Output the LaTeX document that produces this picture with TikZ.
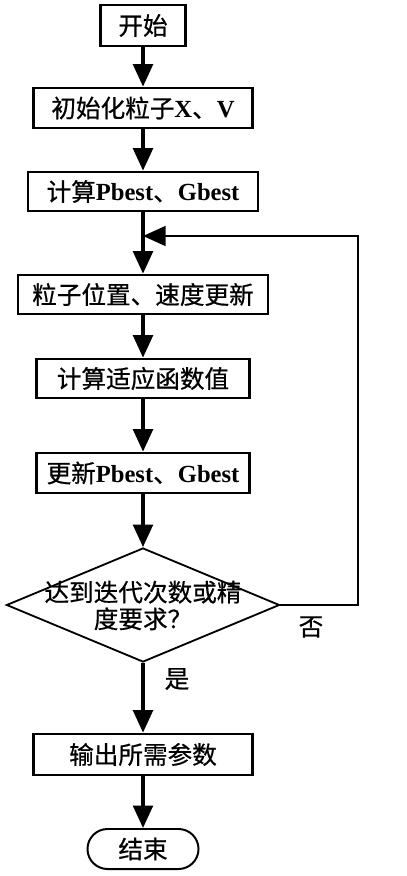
\documentclass[tikz,border=0pt]{standalone}
\usepackage{fontspec}
\setmainfont{Liberation Serif}
\newfontfamily\cjk{Noto Sans CJK SC}[BoldFont=Noto Sans CJK SC,BoldFeatures={FakeBold=0.6}]
\newcommand\lat[1]{{\rmfamily\bfseries #1}}
\usetikzlibrary{arrows.meta}
\usetikzlibrary{shapes.geometric}

\begin{document}
\begin{tikzpicture}[x=0.025cm,y=-0.025cm,
  txt/.style={font=\fontsize{17.5}{19}\selectfont\cjk\bfseries},
  box/.style={txt,draw,line width=1.9pt,inner sep=0pt,minimum height=1cm},
  flow/.style={line width=2.4pt,-{Triangle[width=14pt,length=16pt]}}]
\useasboundingbox (0,0) rectangle (407,876);
\node[box,minimum width=2.125cm,minimum height=1.025cm] (start) at (143,25.5) {开始};
\node[box,minimum width=5.475cm] (init) at (143,108) {初始化粒子\lat{X}、\lat{V}};
\node[box,minimum width=5.75cm,minimum height=0.975cm] (calc) at (143,191.5) {计算\lat{Pbest}、\lat{Gbest}};
\node[box,minimum width=6.25cm,minimum height=0.975cm] (move) at (143,294.5) {粒子位置、速度更新};
\node[box,minimum width=5.325cm,minimum height=0.975cm] (fit) at (143,378.5) {计算适应函数值};
\node[box,minimum width=5.325cm] (best) at (143,473) {更新\lat{Pbest}、\lat{Gbest}};
\node[draw,diamond,line width=1.3pt,inner sep=0pt,minimum width=6.825cm,minimum height=2.85cm] (check) at (143,605) {};
\node[txt,align=center,inner sep=0pt] (checktext) at (143,605.5) {达到迭代次数或精\\度要求？};
\node[box,minimum width=5.475cm,minimum height=1.025cm] (out) at (143,754.5) {输出所需参数};
\node[box,line width=1.4pt,rounded corners=0.5cm,minimum width=2.775cm] (stop) at (143,849) {结束};
\node[txt] (no) at (311,627) {否};
\node[txt] (yes) at (177,679) {是};
\coordinate (loop) at (143,236);
\coordinate (turn) at (358,236);
\draw[flow] (start) -- (init);
\draw[flow] (init) -- (calc);
\draw[flow] (calc) -- (move);
\draw[flow] (move) -- (fit);
\draw[flow] (fit) -- (best);
\draw[flow] (best) -- (check);
\draw[flow] (check) -- (out);
\draw[flow] (out) -- (stop);
\draw[flow,line width=1.5pt] (check.east) -| (turn) -- (loop);
\end{tikzpicture}
\end{document}
